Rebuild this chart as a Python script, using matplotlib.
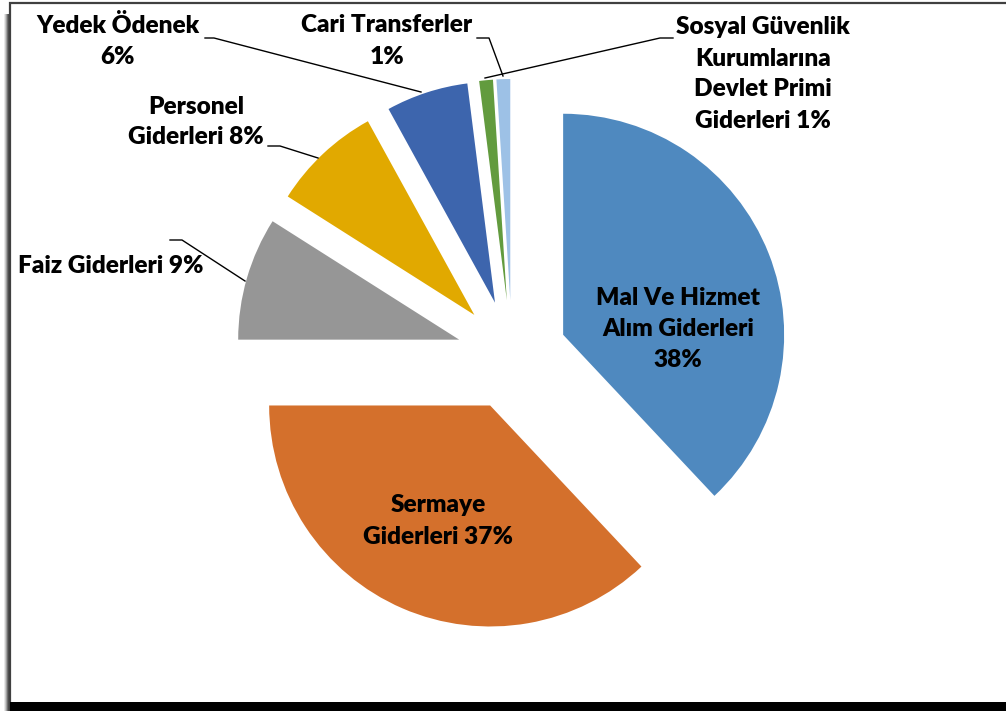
import matplotlib.pyplot as plt
from matplotlib.patches import Rectangle

plt.rcParams['font.family'] = ['Lato', 'DejaVu Sans']

# data
names = ["Mal Ve Hizmet\nAlım Giderleri", "Sermaye\nGiderleri", "Faiz Giderleri",
         "Personel\nGiderleri", "Yedek Ödenek", "Cari Transferler",
         "Sosyal Güvenlik\nKurumlarına\nDevlet Primi\nGiderleri"]
values = [38, 37, 9, 8, 6, 1, 1]
seps = ["\n", " ", " ", " ", "\n", "\n", " "]
colors = ["#4F89BF", "#D4702C", "#969696", "#E1A900", "#3D65AD", "#629B3E", "#9DC1E6"]

W, H = 1006, 711
fig = plt.figure(figsize=(W / 100, H / 100), dpi=100)
ax = fig.add_axes([0, 0, 1, 1])

# pixel-like coords (y up)
cx, cy, r, d = 512, H - 355, 221, 55
ax.pie(values, colors=colors, startangle=90, counterclock=False,
       center=(cx, cy), radius=r, explode=[d] * len(values),
       wedgeprops=dict(linewidth=0))
ax.set_xlim(0, W)
ax.set_ylim(0, H)
ax.set_aspect('auto')
ax.axis('off')

labels = [n + s + f"{v}%" for n, s, v in zip(names, seps, values)]

# label positions (x, y from top), alignment
pos = [(678, 329, 'center'), (438, 521, 'center'), (18, 266, 'left'),
       (196, 122, 'center'), (118, 41, 'center'), (387, 41, 'center'),
       (763, 74, 'center')]
for lab, (x, y, ha) in zip(labels, pos):
    ax.text(x, H - y, lab, ha=ha, va='center', fontsize=17.6, fontweight='heavy',
            color='black', linespacing=1.5)

# leader lines
leaders = [
    [(170, 240), (182, 240), (245, 281)],
    [(268, 146), (280, 146), (318, 158)],
    [(205, 38), (214, 38), (421, 92)],
    [(477, 38), (489, 38), (503, 76)],
    [(673, 38), (660, 38), (485, 78)],
]
for pts in leaders:
    ax.plot([p[0] for p in pts], [H - p[1] for p in pts], color='black', lw=1)

# frame with shadow
ax.add_patch(Rectangle((10, 0), W, H - 3, fill=False, edgecolor='#404040', lw=1.6, zorder=5))
ax.add_patch(Rectangle((10, 0), W, 9.5, facecolor='black', edgecolor='none', zorder=6))
for i, g in enumerate(['#e8e8e8', '#c8c8c8', '#a0a0a0', '#707070', '#505050']):
    ax.add_patch(Rectangle((4 + i, 0), 1, H - 14, facecolor=g, edgecolor='none', zorder=4))

fig.savefig('out.png', dpi=100)
